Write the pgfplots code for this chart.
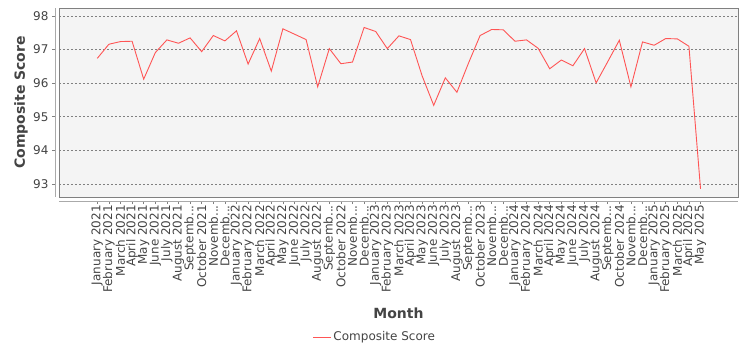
\documentclass[border=0pt]{standalone}
\usepackage{pgfplots}
\pgfplotsset{compat=1.18}
\usepackage{fontspec}
\setmainfont{DejaVu Sans}
\definecolor{bgc}{RGB}{244,244,244}
\definecolor{brd}{RGB}{128,128,128}
\definecolor{axl}{RGB}{170,170,170}
\definecolor{txt}{RGB}{68,68,68}
\definecolor{ln}{RGB}{255,85,85}
\begin{document}
\begin{tikzpicture}
\path[use as bounding box] (-59bp,-153bp) rectangle (691bp,197bp);
\begin{axis}[
  at={(0,0)}, anchor=south west,
  scale only axis, width=679bp, height=189bp,
  xmin=-3.30, xmax=55.23,
  ymin=92.61, ymax=98.24,
  ytick={93,94,95,96,97,98},
  xtick={0,1,2,3,4,5,6,7,8,9,10,11,12,13,14,15,16,17,18,19,20,21,22,23,24,25,26,27,28,29,30,31,32,33,34,35,36,37,38,39,40,41,42,43,44,45,46,47,48,49,50,51,52},
  xticklabels={January 2021,February 2021,March 2021,April 2021,May 2021,June 2021,July 2021,August 2021,Septemb.{}.{}.,October 2021,Novemb.{}.{}.,Decemb.{}.{}.,
    January 2022,February 2022,March 2022,April 2022,May 2022,June 2022,July 2022,August 2022,Septemb.{}.{}.,October 2022,Novemb.{}.{}.,Decemb.{}.{}.,
    January 2023,February 2023,March 2023,April 2023,May 2023,June 2023,July 2023,August 2023,Septemb.{}.{}.,October 2023,Novemb.{}.{}.,Decemb.{}.{}.,
    January 2024,February 2024,March 2024,April 2024,May 2024,June 2024,July 2024,August 2024,Septemb.{}.{}.,October 2024,Novemb.{}.{}.,Decemb.{}.{}.,
    January 2025,February 2025,March 2025,April 2025,May 2025},
  axis background/.style={fill=bgc, draw=brd, line width=0.8bp},
  axis lines*=left,
  axis x line shift=4bp,
  axis y line shift=4bp,
  axis line style={axl, line width=0.8bp},
  tick align=outside,
  major tick length=3bp,
  tick style={brd, line width=0.6bp},
  ymajorgrids,
  major grid style={draw=brd, dash pattern=on 2bp off 2bp, line width=0.6bp},
  xticklabel style={rotate=90, anchor=east, font=\fontsize{12bp}{14bp}\selectfont, text=txt, inner sep=1bp},
  yticklabel style={font=\fontsize{12bp}{14bp}\selectfont, text=txt, /pgf/number format/assume math mode=true},
  every axis y label/.style={at={(axis description cs:0,0.5)}, xshift=-38bp, rotate=90, anchor=center, font=\bfseries\fontsize{14bp}{16bp}\selectfont, text=txt},
  every axis x label/.style={at={(axis description cs:0.5,0)}, yshift=-116bp, anchor=center, font=\bfseries\fontsize{14bp}{16bp}\selectfont, text=txt},
  xlabel={Month},
  ylabel={Composite Score},
  legend style={at={(axis description cs:0.465,0)}, yshift=-140bp, anchor=center, draw=none, fill=none, font=\fontsize{12bp}{14bp}\selectfont, text=txt},
  legend image code/.code={\draw[draw=ln, line width=1bp] (0bp,0bp) -- (15bp,0bp); \path (15bp,0bp) -- (18bp,0bp);},
]
\addplot[ln, line width=0.9bp] coordinates {
(0,96.74) (1,97.16) (2,97.24) (3,97.25) (4,96.12) (5,96.91) (6,97.29) (7,97.19) (8,97.35) (9,96.94)
(10,97.42) (11,97.26) (12,97.56) (13,96.57) (14,97.33) (15,96.36) (16,97.62) (17,97.46) (18,97.30) (19,95.89)
(20,97.03) (21,96.58) (22,96.63) (23,97.66) (24,97.54) (25,97.03) (26,97.41) (27,97.30) (28,96.22) (29,95.34)
(30,96.16) (31,95.73) (32,96.60) (33,97.42) (34,97.60) (35,97.59) (36,97.25) (37,97.29) (38,97.04) (39,96.43)
(40,96.69) (41,96.52) (42,97.03) (43,96.01) (44,96.64) (45,97.28) (46,95.89) (47,97.23) (48,97.13) (49,97.33)
(50,97.32) (51,97.10) (52,92.85)
};
\addlegendentry{Composite Score}
\end{axis}
\end{tikzpicture}
\end{document}
